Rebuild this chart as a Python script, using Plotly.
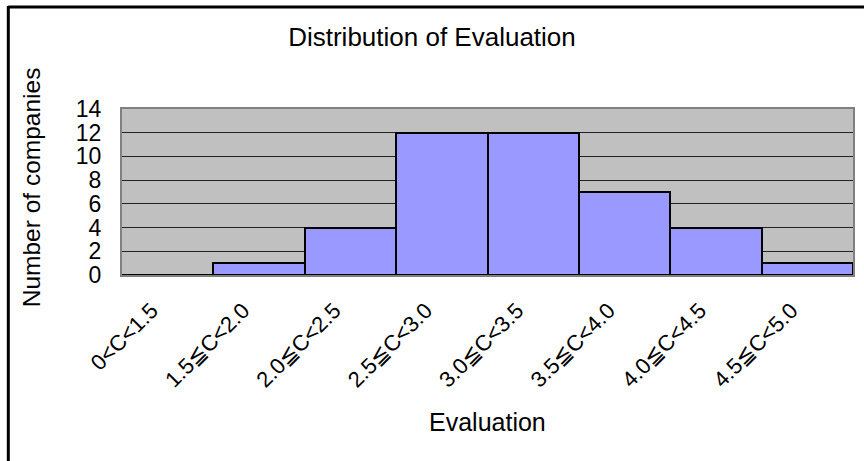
import plotly.graph_objects as go

# Histogram of company evaluations by score band
categories = ["0<C<1.5", "1.5≦C<2.0", "2.0≦C<2.5", "2.5≦C<3.0",
              "3.0≦C<3.5", "3.5≦C<4.0", "4.0≦C<4.5", "4.5≦C<5.0"]
counts = [0, 1, 4, 12, 12, 7, 4, 1]
y_ticks = [0, 2, 4, 6, 8, 10, 12, 14]

FONT = "Liberation Sans, Arial, DejaVu Sans, sans-serif"

W, H = 864, 461
L, R, T, B = 122, 9, 109, 186
pw, ph = W - L - R, H - T - B


def px_to_paper_x(px):
    return (px - L) / pw


def px_to_paper_y(py):
    return (H - B - py) / ph


fig = go.Figure(
    go.Bar(
        x=categories,
        y=counts,
        marker=dict(color="#9999FF", line=dict(color="black", width=2)),
        hoverinfo="x+y",
    )
)

fig.update_layout(
    width=W,
    height=H,
    margin=dict(l=L, r=R, t=T, b=B),
    paper_bgcolor="white",
    plot_bgcolor="#C0C0C0",
    bargap=0,
    showlegend=False,
    font=dict(family=FONT, color="black"),
    title=dict(
        text="Distribution of Evaluation",
        x=0.5, xref="container", xanchor="center",
        y=1 - 37 / H, yref="container", yanchor="middle",
        font=dict(size=26, family=FONT, color="black"),
    ),
    xaxis=dict(
        type="category",
        tickangle=-45,
        tickfont=dict(size=22, family=FONT, color="black"),
        showgrid=False,
        showline=True, linecolor="#808080", linewidth=2, mirror=True,
        ticks="",
        ticklabelstandoff=12,
        ticklabelshift=-16,
        fixedrange=True,
    ),
    yaxis=dict(
        range=[0, 14],
        tickvals=y_ticks,
        tickfont=dict(size=23, family=FONT, color="black"),
        showgrid=True, gridcolor="#222222", gridwidth=1,
        showline=True, linecolor="#808080", linewidth=2, mirror=True,
        zeroline=False,
        ticks="",
        ticklabelstandoff=14,
        fixedrange=True,
    ),
    annotations=[
        dict(
            text="Evaluation",
            xref="paper", yref="paper",
            x=0.5, y=px_to_paper_y(422),
            xanchor="center", yanchor="middle",
            showarrow=False,
            font=dict(size=25, family=FONT, color="black"),
        ),
        dict(
            text="Number of companies",
            xref="paper", yref="paper",
            x=px_to_paper_x(31), y=px_to_paper_y(187),
            xanchor="center", yanchor="middle",
            textangle=-90,
            showarrow=False,
            font=dict(size=24.5, family=FONT, color="black"),
        ),
    ],
    shapes=[
        # frame around the whole chart area (top and left edges)
        dict(type="line", xref="paper", yref="paper",
             x0=px_to_paper_x(8), x1=px_to_paper_x(880),
             y0=px_to_paper_y(7), y1=px_to_paper_y(7),
             line=dict(color="black", width=3)),
        dict(type="line", xref="paper", yref="paper",
             x0=px_to_paper_x(8), x1=px_to_paper_x(8),
             y0=px_to_paper_y(6), y1=px_to_paper_y(480),
             line=dict(color="black", width=3)),
    ],
)

fig.write_html("out.html")
